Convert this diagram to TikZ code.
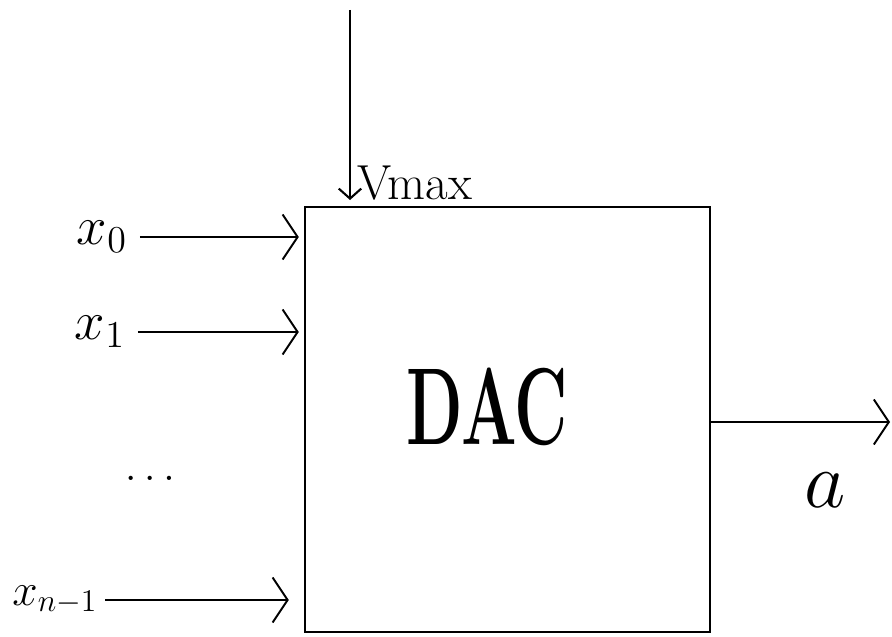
\documentclass[tikz,border=0pt]{standalone}
\usepackage{xcolor}
\usepackage{graphicx}
\usetikzlibrary{arrows.meta, calc}

\begin{document}
\begin{tikzpicture}[>={Straight Barb[length=3mm, width=9mm]}, line width=1.1pt, every node/.style={inner sep=1pt}]
  \useasboundingbox (0,0) rectangle (17.84,12.72);
  \node[draw, line width=1.4pt, minimum width=8.1cm, minimum height=8.5cm] (dac) at (10.15,4.33) {};
  \node (dactext) at ($(dac.center)+(-0.4,0.25)$) {\scalebox{1.8}[3.0]{\huge\textbf{DAC}}};
  \coordinate (vtop) at (7.0,12.52);
  \coordinate (vtip) at (7.0,8.72);
  \draw[line width=0.6pt, -{Straight Barb[length=2mm, width=4.5mm, line width=1.2pt]}] (vtop) -- (vtip) node[at end, anchor=south west, xshift=0.1cm, yshift=-0.05cm] {\scalebox{1.35}{\huge Vmax}};
  \node (x0) at (2.04,7.98) {\scalebox{1.5}{\huge $x_0$}};
  \node (x1) at (2.0,6.08) {\scalebox{1.5}{\huge $x_1$}};
  \node (dots) at (3.0,3.15) {\scalebox{1.2}{\huge $\ldots$}};
  \node (xn) at (1.1,0.72) {\scalebox{1.25}{\huge $x_{n-1}$}};
  \draw[->] ($(x0.east)+(0.2,0)$) -- ($(dac.west |- x0)+(-0.1,0)$);
  \draw[->] ($(x1.east)+(0.2,0)$) -- ($(dac.west |- x1)+(-0.1,0)$);
  \draw[->] ($(xn.east)+(0.1,0)$) -- ($(dac.west |- xn)+(-0.3,0)$);
  \coordinate (out) at (17.8,4.28);
  \draw[->] (dac.east |- out) -- (out);
  \node (a) at (16.5,2.92) {\scalebox{2.2}{\huge $a$}};
\end{tikzpicture}
\end{document}
